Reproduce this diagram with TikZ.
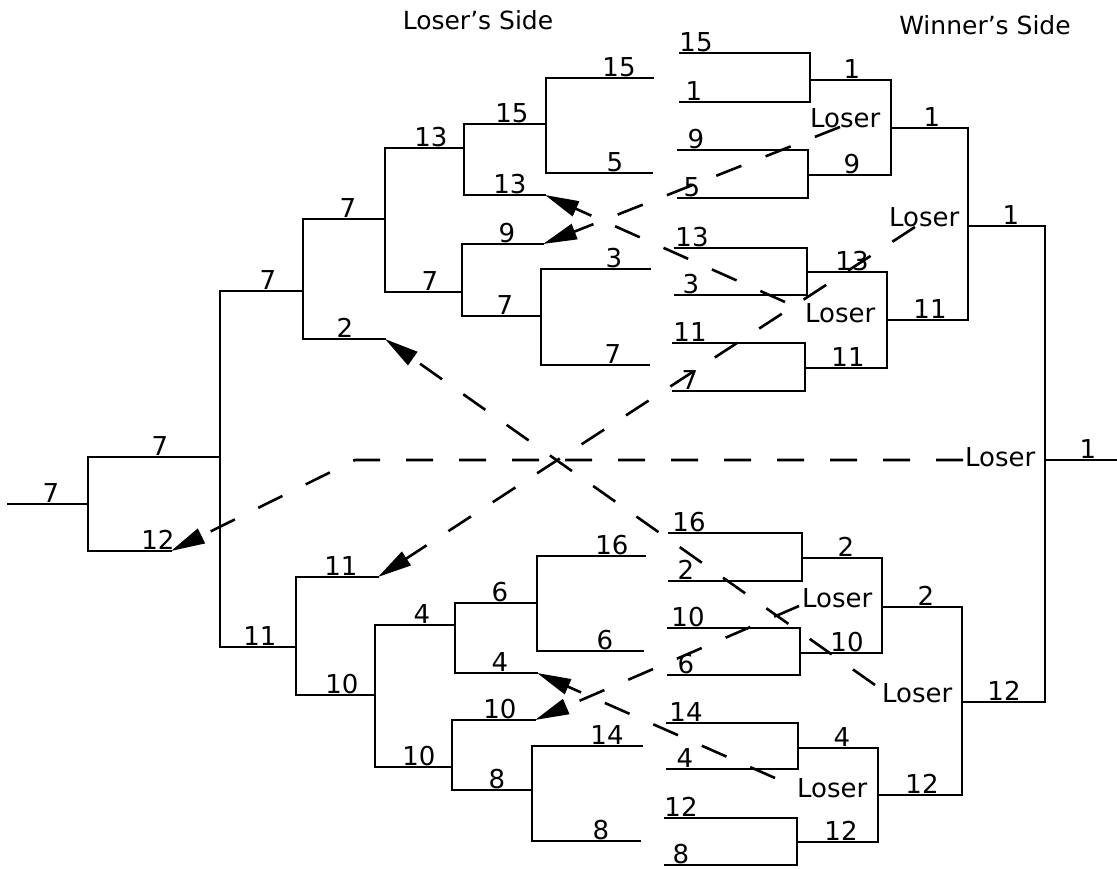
\documentclass[tikz,border=0pt]{standalone}
\usepackage{fontspec}
\setmainfont{DejaVu Sans}
\usetikzlibrary{arrows.meta}
\begin{document}
\begin{tikzpicture}[x=1pt,y=-1pt,
  bracket/.style={line width=2.6pt,line join=miter,line cap=rect},
  num/.style={anchor=base,inner sep=0pt,yshift=1.2pt,font=\fontsize{26}{31}\selectfont},
  loserlbl/.style={anchor=base west,inner sep=0pt,font=\fontsize{26}{31}\selectfont},
  head/.style={anchor=base,inner sep=0pt,font=\fontsize{25}{30}\selectfont},
  drop/.style={line width=2.6pt,dash pattern=on 27pt off 26pt,
    -{Triangle[length=34pt,width=16pt]}}]
\useasboundingbox (0,0) rectangle (1117,869);

% headings
\node[head] (hl) at (478,30) {Loser's Side};
\node[head] (hw) at (985,35) {Winner's Side};

% ---------------- winner's bracket ----------------
\draw[bracket] (680,53) -| (810,102) -- (680,102);
\draw[bracket] (678,150) -| (808,198) -- (678,198);
\draw[bracket] (810,80) -| (891,175) -- (808,175);
\draw[bracket] (675,248) -| (807,295) -- (675,295);
\draw[bracket] (673,343) -| (805,391) -- (673,391);
\draw[bracket] (807,272) -| (887,368) -- (805,368);
\draw[bracket] (891,128) -| (968,320) -- (887,320);
\draw[bracket] (669,533) -| (802,581) -- (669,581);
\draw[bracket] (668,628) -| (800,675) -- (668,675);
\draw[bracket] (802,558) -| (882,653) -- (800,653);
\draw[bracket] (667,723) -| (798,769) -- (667,769);
\draw[bracket] (665,818) -| (797,865) -- (665,865);
\draw[bracket] (798,748) -| (878,842) -- (797,842);
\draw[bracket] (882,607) -| (962,795) -- (878,795);
\draw[bracket] (968,226) -| (1045,702) -- (962,702);
\draw[bracket] (1045,460) -- (1117,460);

% ---------------- loser's bracket ----------------
\draw[bracket] (653,78) -| (546,173) -- (652,173);
\draw[bracket] (546,124) -| (464,195) -- (545,195);
\draw[bracket] (650,269) -| (541,365) -- (649,365);
\draw[bracket] (543,244) -| (462,316) -- (541,316);
\draw[bracket] (464,148) -| (385,292) -- (462,292);
\draw[bracket] (385,219) -| (303,339) -- (385,339);
\draw[bracket] (303,291) -| (220,647) -- (296,647);
\draw[bracket] (220,457) -| (88,551) -- (171,551);
\draw[bracket] (88,504) -- (8,504);
\draw[bracket] (645,556) -| (537,651) -- (643,651);
\draw[bracket] (537,603) -| (455,673) -- (537,673);
\draw[bracket] (642,746) -| (532,841) -- (640,841);
\draw[bracket] (535,720) -| (452,790) -- (532,790);
\draw[bracket] (455,625) -| (375,767) -- (452,767);
\draw[bracket] (378,577) -| (296,695) -- (375,695);

% ---------------- winner's side labels ----------------
\node[num] (w15a) at (696,53) {15};
\node[num] (w1a)  at (694,102) {1};
\node[num] (w9a)  at (696,150) {9};
\node[num] (w5a)  at (692,198) {5};
\node[num] (w1b)  at (852,80) {1};
\node[num] (w9b)  at (852,175) {9};
\node[num] (w1c)  at (932,128) {1};
\node[num] (w13a) at (692,248) {13};
\node[num] (w3a)  at (691,295) {3};
\node[num] (w11a) at (690,343) {11};
\node[num] (w7a)  at (690,391) {7};
\node[num] (w13b) at (852,272) {13};
\node[num] (w11b) at (848,368) {11};
\node[num] (w11c) at (930,320) {11};
\node[num] (w1d)  at (1011,226) {1};
\node[num] (w1e)  at (1088,460) {1};
\node[num] (w16a) at (689,533) {16};
\node[num] (w2a)  at (686,581) {2};
\node[num] (w10a) at (688,628) {10};
\node[num] (w6a)  at (686,675) {6};
\node[num] (w2b)  at (846,558) {2};
\node[num] (w10b) at (847,653) {10};
\node[num] (w2c)  at (926,607) {2};
\node[num] (w14a) at (686,723) {14};
\node[num] (w4a)  at (685,769) {4};
\node[num] (w12a) at (681,818) {12};
\node[num] (w8a)  at (681,865) {8};
\node[num] (w4b)  at (842,748) {4};
\node[num] (w12b) at (841,842) {12};
\node[num] (w12c) at (922,795) {12};
\node[num] (w12d) at (1004,702) {12};

% ---------------- loser's side labels ----------------
\node[num] (l15a) at (619,78) {15};
\node[num] (l5a)  at (615,173) {5};
\node[num] (l15b) at (512,124) {15};
\node[num] (l13a) at (510,195) {13};
\node[num] (l13b) at (431,148) {13};
\node[num] (l3a)  at (614,269) {3};
\node[num] (l7a)  at (613,365) {7};
\node[num] (l9a)  at (507,244) {9};
\node[num] (l7b)  at (505,316) {7};
\node[num] (l7c)  at (430,292) {7};
\node[num] (l7d)  at (348,219) {7};
\node[num] (l2a)  at (345,339) {2};
\node[num] (l7e)  at (268,291) {7};
\node[num] (l7f)  at (160,457) {7};
\node[num] (l12a) at (158,551) {12};
\node[num] (l7g)  at (51,504) {7};
\node[num] (l16a) at (612,556) {16};
\node[num] (l6a)  at (605,651) {6};
\node[num] (l6b)  at (500,603) {6};
\node[num] (l4a)  at (500,673) {4};
\node[num] (l14a) at (607,746) {14};
\node[num] (l8a)  at (601,841) {8};
\node[num] (l10a) at (500,720) {10};
\node[num] (l8b)  at (497,790) {8};
\node[num] (l4b)  at (422,625) {4};
\node[num] (l10b) at (419,767) {10};
\node[num] (l11a) at (341,577) {11};
\node[num] (l10c) at (342,695) {10};
\node[num] (l11b) at (260,647) {11};

% ---------------- "Loser" marks in the winner's bracket ----------------
\node[loserlbl] (L1) at (810,128) {Loser};
\node[loserlbl] (L2) at (889,227) {Loser};
\node[loserlbl] (L3) at (805,322) {Loser};
\node[loserlbl] (L4) at (965,466) {Loser};
\node[loserlbl] (L5) at (802,607) {Loser};
\node[loserlbl] (L6) at (882,702) {Loser};
\node[loserlbl] (L7) at (797,797) {Loser};

% start points of the drop lines, next to each "Loser"
\coordinate (s1) at (840,127);
\coordinate (s2) at (915,227);
\coordinate (s3) at (785,302);
\coordinate (s5) at (799,606);
\coordinate (s6) at (875,685);
\coordinate (s7) at (775,778);
\coordinate (s4) at (963,460);
\coordinate (bend) at (355,460);

% entry points on the loser's bracket
\coordinate (e9)  at (543,244);
\coordinate (e13) at (545,195);
\coordinate (e11) at (378,577);
\coordinate (e2)  at (385,339);
\coordinate (e10) at (535,720);
\coordinate (e4)  at (537,673);
\coordinate (e12) at (171,551);

% ---------------- drop lines ----------------
\draw[drop] (s1) -- (e9);
\draw[drop] (s3) -- (e13);
\draw[drop] (s2) -- (e11);
\draw[drop] (s6) -- (e2);
\draw[drop] (s5) -- (e10);
\draw[drop] (s7) -- (e4);
\draw[drop] (s4) -- (bend) -- (e12);
\end{tikzpicture}
\end{document}
